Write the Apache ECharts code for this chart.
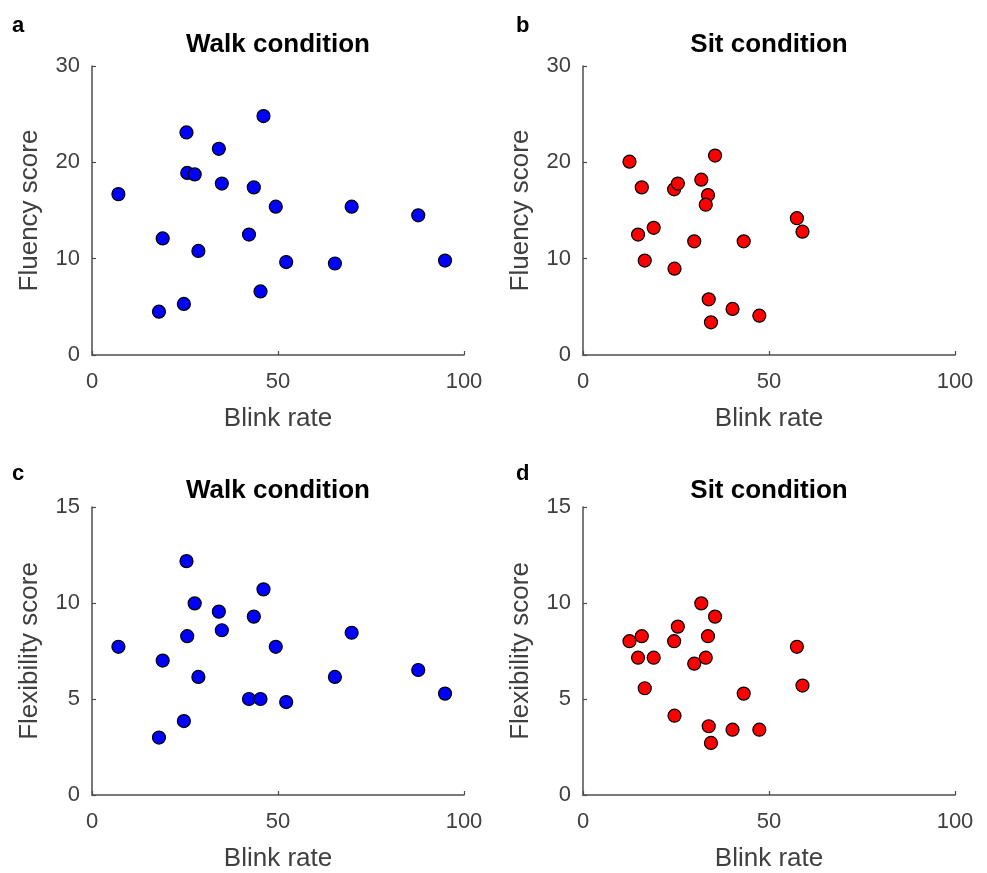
<!DOCTYPE html>
<html>
<head>
<meta charset="utf-8">
<script src="https://cdn.jsdelivr.net/npm/echarts@6/dist/echarts.min.js"></script>
<style>
  html, body { margin: 0; padding: 0; background: #ffffff; }
  #main { width: 987px; height: 873px; }
</style>
</head>
<body>
<div id="main"></div>
<script>
// blink rate per subject, walk condition (panels a, c)
var walkBlink = [7.1, 25.4, 46.1, 34.1, 25.6, 27.6, 34.9, 43.5, 49.4, 69.8, 87.7, 19.0, 42.2, 28.6, 52.2, 65.3, 94.9, 45.3, 24.7, 18.0];
var walkFluency = [16.7, 23.1, 24.8, 21.4, 18.9, 18.75, 17.8, 17.4, 15.4, 15.4, 14.5, 12.1, 12.5, 10.8, 9.65, 9.5, 9.8, 6.6, 5.3, 4.5];
var walkFlexibility = [7.72, 12.18, 10.71, 9.55, 8.27, 9.98, 8.58, 9.29, 7.72, 8.45, 6.51, 7.0, 5.0, 6.15, 4.84, 6.15, 5.28, 5.0, 3.85, 2.99];

// blink rate per subject, sit condition (panels b, d)
var sitBlink = [12.5, 35.5, 15.8, 24.5, 25.5, 31.8, 33.6, 33.0, 57.5, 59.0, 19.0, 14.8, 29.9, 43.2, 16.6, 24.6, 33.8, 40.2, 47.4, 34.4];
var sitFluency = [20.07, 20.7, 17.4, 17.2, 17.8, 18.2, 16.6, 15.6, 14.2, 12.8, 13.2, 12.5, 11.8, 11.8, 9.8, 8.96, 5.78, 4.78, 4.08, 3.39];
var sitFlexibility = [8.01, 9.29, 8.27, 8.01, 8.77, 9.98, 8.27, 7.15, 7.72, 5.70, 7.15, 7.15, 6.84, 5.28, 5.56, 4.13, 3.58, 3.40, 3.40, 2.71];

var xTicks = [0, 50, 100];
var fluencyTicks = [0, 10, 20, 30];
var flexibilityTicks = [0, 5, 10, 15];

var panelLetters = ['a', 'b', 'c', 'd'];
var panelTitles = ['Walk condition', 'Sit condition', 'Walk condition', 'Sit condition'];
var yNames = ['Fluency score', 'Fluency score', 'Flexibility score', 'Flexibility score'];

var FONT = 'Liberation Sans, Arial, Helvetica, sans-serif';
var AXIS_COLOR = '#4d4d4d';
var LABEL_COLOR = '#404040';

function zip(xs, ys) {
  var out = [];
  for (var i = 0; i < xs.length; i++) out.push([xs[i], ys[i]]);
  return out;
}

// grid boxes for the 4 panels
var grids = [
  { left: 92, top: 66, width: 372, height: 289 },
  { left: 583, top: 66, width: 372, height: 289 },
  { left: 92, top: 507, width: 372, height: 290 },
  { left: 583, top: 507, width: 372, height: 290 }
];
// vertical spots for titles and letters (top row, bottom row)
var titleY = [45, 45, 491, 491];
var letterY = [26, 26, 474, 474];

var yTicksByPanel = [fluencyTicks, fluencyTicks, flexibilityTicks, flexibilityTicks];
var dataByPanel = [
  { d: zip(walkBlink, walkFluency), c: '#0000ff' },
  { d: zip(sitBlink, sitFluency), c: '#ff0000' },
  { d: zip(walkBlink, walkFlexibility), c: '#0000ff' },
  { d: zip(sitBlink, sitFlexibility), c: '#ff0000' }
];

var axisCommon = {
  axisLine: { show: true, lineStyle: { color: AXIS_COLOR, width: 1.5 } },
  axisTick: { show: true, inside: true, length: 4, lineStyle: { color: AXIS_COLOR, width: 1.2 } },
  splitLine: { show: false },
  axisLabel: { color: LABEL_COLOR, fontSize: 22, fontFamily: FONT },
  nameTextStyle: { color: LABEL_COLOR, fontSize: 26, fontFamily: FONT }
};

var xAxis = [], yAxis = [], series = [], graphic = [];
for (var i = 0; i < 4; i++) {
  var yt = yTicksByPanel[i];
  xAxis.push(Object.assign({}, axisCommon, {
    type: 'value', gridIndex: i,
    min: xTicks[0], max: xTicks[xTicks.length - 1], interval: xTicks[1] - xTicks[0],
    name: 'Blink rate', nameLocation: 'middle', nameGap: 51,
    axisLabel: Object.assign({}, axisCommon.axisLabel, { margin: 16 })
  }));
  yAxis.push(Object.assign({}, axisCommon, {
    type: 'value', gridIndex: i,
    min: yt[0], max: yt[yt.length - 1], interval: yt[1] - yt[0],
    name: yNames[i], nameLocation: 'middle', nameGap: 49,
    axisLabel: Object.assign({}, axisCommon.axisLabel, { margin: 12 })
  }));
  series.push({
    type: 'scatter', xAxisIndex: i, yAxisIndex: i,
    symbol: 'circle', symbolSize: 13,
    itemStyle: { color: dataByPanel[i].c, borderColor: '#000000', borderWidth: 1.2, opacity: 1 },
    data: dataByPanel[i].d
  });
  var g = grids[i];
  // panel title, centred over the plot
  graphic.push({
    type: 'text', x: g.left + g.width / 2, y: titleY[i],
    style: { text: panelTitles[i], font: 'bold 26px ' + FONT, fill: '#000', align: 'center', verticalAlign: 'middle' }
  });
  // panel letter
  graphic.push({
    type: 'text', x: (i % 2 === 0 ? 12 : 516), y: letterY[i],
    style: { text: panelLetters[i], font: 'bold 22px ' + FONT, fill: '#000', verticalAlign: 'middle' }
  });
}

var chart = echarts.init(document.getElementById('main'), null, { renderer: 'canvas' });
chart.setOption({
  backgroundColor: '#ffffff',
  animation: false,
  grid: grids,
  xAxis: xAxis,
  yAxis: yAxis,
  series: series,
  graphic: graphic
});
</script>
</body>
</html>
